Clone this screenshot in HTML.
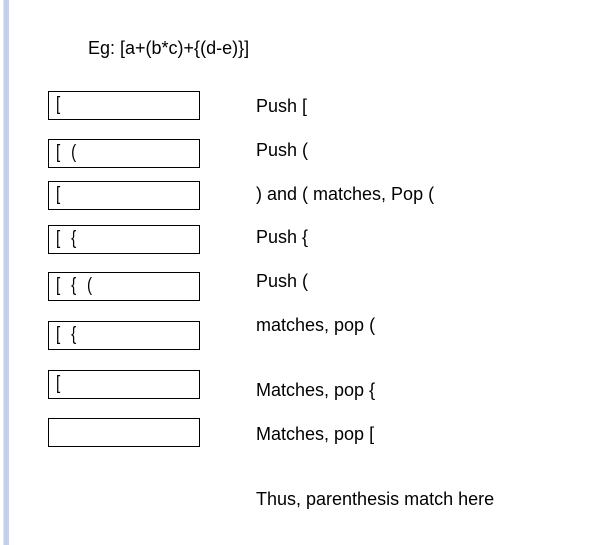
<!DOCTYPE html>
<html><head><meta charset="utf-8"><style>
body{margin:0;width:590px;height:545px;background:#fff;position:relative;overflow:hidden;font-family:"Liberation Sans",sans-serif;font-size:18px;color:#000}
.bar{position:absolute;left:3px;top:0;width:5px;height:545px;background:#c5d0ea;border-left:1px solid #dde4f4}
.box{position:absolute;left:48px;width:150px;height:27px;border:1px solid #000;box-sizing:content-box}
.box span{position:absolute;left:7px;top:2px;font-size:19px;letter-spacing:1px;white-space:pre;transform:scaleX(0.8);transform-origin:left}
.t{position:absolute;left:256px;white-space:nowrap;line-height:20px}
</style></head><body>
<div class="bar"></div>
<div class="t" style="left:88px;top:38px">Eg: [a+(b*c)+{(d-e)}]</div>
<div class="box" style="top:91px"><span>[</span></div>
<div class="box" style="top:139px"><span>[  (</span></div>
<div class="box" style="top:181px"><span>[</span></div>
<div class="box" style="top:225px"><span>[  {</span></div>
<div class="box" style="top:272px"><span>[  {  (</span></div>
<div class="box" style="top:321px"><span>[  {</span></div>
<div class="box" style="top:370px"><span>[</span></div>
<div class="box" style="top:418px"><span></span></div>
<div class="t" style="top:96px">Push [</div>
<div class="t" style="top:140px">Push (</div>
<div class="t" style="top:184px">) and ( matches, Pop (</div>
<div class="t" style="top:227px">Push {</div>
<div class="t" style="top:271px">Push (</div>
<div class="t" style="top:315px">matches, pop (</div>
<div class="t" style="top:380px">Matches, pop {</div>
<div class="t" style="top:424px">Matches, pop [</div>
<div class="t" style="top:489px">Thus, parenthesis match here</div>
</body></html>
